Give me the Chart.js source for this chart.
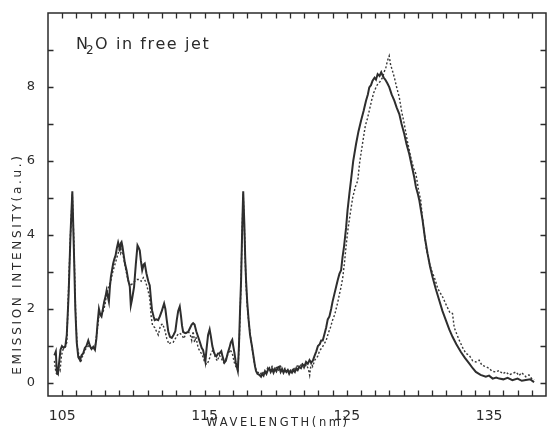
<!DOCTYPE html>
<html>
<head>
<meta charset="utf-8">
<script src="https://cdn.jsdelivr.net/npm/chart.js@4.4.1/dist/chart.umd.min.js"></script>
<style>
  html, body { margin: 0; padding: 0; background: #fff; }
  #wrap { width: 547px; height: 436px; }
</style>
</head>
<body>
<div id="wrap"><canvas id="spectrum"></canvas></div>
<script>
// N2O emission spectrum in a free jet, two runs (solid and dotted trace)
const xLabels = [105, 115, 125, 135];
const yLabels = [0, 2, 4, 6, 8];

const solidX = [104.45, 104.55, 104.62, 104.70, 104.78, 104.88, 104.98, 105.10, 105.22, 105.32, 105.45, 105.58, 105.71, 105.82, 105.92, 106.02, 106.13, 106.25, 106.36, 106.47, 106.59, 106.70, 106.83, 106.95, 107.06, 107.18, 107.30, 107.40, 107.48, 107.58, 107.67, 107.76, 107.86, 107.95, 108.05, 108.12, 108.20, 108.28, 108.35, 108.42, 108.50, 108.58, 108.66, 108.75, 108.84, 108.93, 109.00, 109.05, 109.12, 109.17, 109.23, 109.29, 109.40, 109.52, 109.63, 109.75, 109.82, 109.90, 110.05, 110.17, 110.29, 110.38, 110.45, 110.53, 110.62, 110.72, 110.80, 110.92, 111.05, 111.15, 111.25, 111.31, 111.42, 111.50, 111.62, 111.74, 111.86, 112.00, 112.16, 112.25, 112.33, 112.45, 112.57, 112.70, 112.82, 112.95, 113.05, 113.15, 113.26, 113.35, 113.42, 113.50, 113.65, 113.85, 114.00, 114.10, 114.20, 114.30, 114.42, 114.55, 114.68, 114.80, 114.90, 115.00, 115.06, 115.15, 115.25, 115.36, 115.45, 115.55, 115.65, 115.75, 115.83, 115.95, 116.05, 116.18, 116.28, 116.40, 116.50, 116.64, 116.75, 116.85, 116.95, 117.02, 117.10, 117.20, 117.34, 117.42, 117.50, 117.57, 117.65, 117.72, 117.80, 117.86, 117.92, 118.00, 118.10, 118.20, 118.34, 118.45, 118.55, 118.62, 118.72, 118.85, 118.97, 119.05, 119.15, 119.25, 119.35, 119.45, 119.55, 119.65, 119.75, 119.85, 119.95, 120.05, 120.15, 120.25, 120.35, 120.45, 120.55, 120.65, 120.75, 120.85, 120.95, 121.05, 121.15, 121.25, 121.35, 121.45, 121.55, 121.66, 121.78, 121.90, 122.02, 122.14, 122.26, 122.38, 122.50, 122.61, 122.72, 122.85, 122.97, 123.10, 123.20, 123.31, 123.45, 123.55, 123.66, 123.78, 123.90, 124.00, 124.13, 124.25, 124.36, 124.48, 124.60, 124.70, 124.80, 124.95, 125.05, 125.18, 125.30, 125.45, 125.65, 125.82, 126.00, 126.18, 126.35, 126.48, 126.58, 126.70, 126.81, 126.95, 127.05, 127.17, 127.30, 127.42, 127.52, 127.60, 127.70, 127.85, 127.99, 128.15, 128.34, 128.50, 128.69, 128.85, 129.04, 129.20, 129.39, 129.55, 129.74, 129.86, 130.00, 130.10, 130.22, 130.33, 130.50, 130.68, 130.85, 131.03, 131.25, 131.50, 131.72, 131.96, 132.20, 132.43, 132.70, 133.02, 133.30, 133.60, 133.85, 134.07, 134.40, 134.77, 135.00, 135.25, 135.50, 135.71, 136.00, 136.30, 136.64, 137.00, 137.30, 137.58, 137.90, 138.16];
const solidY = [0.75, 0.85, 0.30, 0.25, 0.55, 0.90, 1.00, 0.95, 1.00, 1.30, 2.40, 4.00, 5.18, 3.60, 2.00, 1.10, 0.70, 0.62, 0.75, 0.80, 0.95, 1.00, 1.15, 1.00, 0.92, 0.98, 0.90, 1.20, 1.60, 2.00, 1.85, 1.80, 2.00, 2.20, 2.35, 2.50, 2.35, 2.20, 2.60, 2.87, 3.05, 3.23, 3.35, 3.45, 3.65, 3.80, 3.70, 3.58, 3.78, 3.81, 3.70, 3.54, 3.25, 3.05, 2.80, 2.60, 2.10, 2.25, 2.60, 3.20, 3.72, 3.65, 3.58, 3.30, 3.05, 3.20, 3.23, 2.96, 2.75, 2.64, 2.20, 1.97, 1.80, 1.70, 1.72, 1.70, 1.80, 1.95, 2.15, 2.00, 1.75, 1.40, 1.25, 1.22, 1.30, 1.40, 1.70, 1.95, 2.07, 1.80, 1.55, 1.38, 1.35, 1.38, 1.50, 1.58, 1.62, 1.58, 1.40, 1.25, 1.10, 0.95, 0.89, 0.70, 0.58, 0.95, 1.30, 1.45, 1.25, 1.00, 0.85, 0.75, 0.72, 0.80, 0.80, 0.86, 0.70, 0.55, 0.60, 0.82, 0.95, 1.10, 1.17, 1.00, 0.82, 0.55, 0.33, 1.00, 2.00, 2.78, 4.20, 5.18, 4.30, 3.40, 2.78, 2.20, 1.70, 1.30, 0.98, 0.70, 0.45, 0.33, 0.25, 0.22, 0.17, 0.25, 0.20, 0.32, 0.25, 0.35, 0.40, 0.30, 0.38, 0.28, 0.38, 0.32, 0.42, 0.44, 0.30, 0.38, 0.28, 0.36, 0.30, 0.35, 0.25, 0.33, 0.28, 0.35, 0.30, 0.40, 0.35, 0.44, 0.40, 0.50, 0.45, 0.57, 0.52, 0.62, 0.55, 0.60, 0.72, 0.85, 1.00, 1.05, 1.15, 1.15, 1.35, 1.50, 1.72, 1.80, 2.00, 2.20, 2.41, 2.60, 2.78, 2.95, 3.05, 3.40, 3.67, 4.20, 4.66, 5.11, 5.50, 6.00, 6.46, 6.80, 7.09, 7.35, 7.63, 7.80, 7.99, 8.05, 8.17, 8.25, 8.20, 8.35, 8.30, 8.40, 8.31, 8.25, 8.20, 8.10, 7.99, 7.80, 7.63, 7.45, 7.27, 7.00, 6.73, 6.45, 6.19, 5.90, 5.56, 5.30, 5.10, 4.93, 4.65, 4.39, 3.90, 3.49, 3.15, 2.86, 2.55, 2.23, 1.95, 1.70, 1.45, 1.25, 1.05, 0.84, 0.68, 0.53, 0.40, 0.30, 0.22, 0.17, 0.20, 0.12, 0.15, 0.12, 0.10, 0.14, 0.08, 0.12, 0.06, 0.08, 0.10, 0.02];

const dotX = [104.45, 104.55, 104.65, 104.75, 104.85, 104.95, 105.05, 105.20, 105.32, 105.45, 105.58, 105.71, 105.82, 105.95, 106.05, 106.15, 106.30, 106.40, 106.55, 106.70, 106.85, 107.00, 107.15, 107.30, 107.45, 107.58, 107.70, 107.85, 108.00, 108.12, 108.25, 108.40, 108.55, 108.70, 108.85, 109.00, 109.10, 109.20, 109.35, 109.50, 109.65, 109.80, 109.95, 110.10, 110.25, 110.40, 110.55, 110.70, 110.85, 111.00, 111.15, 111.25, 111.35, 111.50, 111.62, 111.75, 111.90, 112.05, 112.20, 112.35, 112.50, 112.65, 112.80, 112.95, 113.10, 113.25, 113.40, 113.55, 113.70, 113.85, 114.00, 114.10, 114.20, 114.30, 114.40, 114.55, 114.70, 114.85, 115.00, 115.15, 115.30, 115.45, 115.60, 115.75, 115.90, 116.05, 116.20, 116.35, 116.50, 116.65, 116.80, 116.95, 117.10, 117.25, 117.35, 117.45, 117.55, 117.65, 117.72, 117.80, 117.90, 118.00, 118.12, 118.25, 118.38, 118.50, 118.62, 118.75, 118.90, 119.00, 119.15, 119.30, 119.45, 119.60, 119.75, 119.90, 120.05, 120.20, 120.35, 120.50, 120.65, 120.80, 120.95, 121.10, 121.25, 121.40, 121.55, 121.70, 121.85, 122.00, 122.15, 122.30, 122.39, 122.50, 122.60, 122.75, 122.95, 123.10, 123.25, 123.40, 123.55, 123.70, 123.85, 124.00, 124.15, 124.25, 124.40, 124.48, 124.60, 124.72, 124.85, 124.95, 125.07, 125.25, 125.42, 125.60, 125.77, 125.90, 126.10, 126.30, 126.45, 126.58, 126.75, 126.90, 127.05, 127.20, 127.35, 127.52, 127.62, 127.75, 127.85, 127.98, 128.08, 128.20, 128.34, 128.50, 128.69, 128.85, 129.04, 129.25, 129.50, 129.70, 129.86, 130.05, 130.20, 130.28, 130.40, 130.57, 130.80, 131.00, 131.15, 131.40, 131.73, 132.00, 132.25, 132.43, 132.55, 132.70, 132.90, 133.15, 133.37, 133.60, 133.85, 134.07, 134.30, 134.50, 134.77, 135.00, 135.20, 135.47, 135.70, 135.95, 136.20, 136.40, 136.64, 136.90, 137.10, 137.30, 137.58, 137.80, 138.00, 138.16];
const dotY = [0.60, 0.30, 0.20, 0.45, 0.35, 0.75, 0.90, 0.95, 1.10, 2.60, 4.00, 5.10, 3.80, 1.80, 1.00, 0.80, 0.55, 0.70, 0.85, 0.95, 1.00, 0.95, 0.90, 0.95, 1.40, 1.80, 1.85, 1.90, 2.10, 2.40, 2.60, 2.75, 3.00, 3.20, 3.40, 3.60, 3.50, 3.62, 3.30, 3.00, 2.75, 2.62, 2.70, 2.75, 2.80, 2.80, 2.75, 2.85, 2.75, 2.55, 2.30, 1.80, 1.55, 1.50, 1.40, 1.30, 1.55, 1.60, 1.45, 1.20, 1.05, 1.10, 1.10, 1.20, 1.30, 1.35, 1.30, 1.20, 1.35, 1.40, 1.30, 1.15, 1.40, 1.10, 1.25, 0.95, 0.85, 0.75, 0.58, 0.50, 0.60, 0.80, 0.90, 0.70, 0.60, 0.75, 0.65, 0.55, 0.65, 0.78, 0.90, 0.80, 0.55, 0.40, 0.35, 1.20, 2.50, 4.20, 5.10, 4.20, 2.80, 2.10, 1.60, 1.20, 0.85, 0.55, 0.35, 0.28, 0.30, 0.22, 0.30, 0.28, 0.42, 0.35, 0.45, 0.35, 0.42, 0.35, 0.45, 0.32, 0.40, 0.28, 0.38, 0.30, 0.42, 0.32, 0.50, 0.42, 0.55, 0.40, 0.50, 0.38, 0.21, 0.55, 0.45, 0.62, 0.72, 0.88, 0.95, 1.05, 1.15, 1.35, 1.50, 1.70, 1.85, 2.00, 2.25, 2.40, 2.60, 2.86, 3.30, 3.70, 4.12, 4.60, 5.02, 5.30, 5.47, 5.95, 6.46, 6.95, 7.15, 7.36, 7.65, 7.85, 7.99, 8.10, 8.15, 8.26, 8.40, 8.53, 8.70, 8.84, 8.60, 8.45, 8.26, 8.00, 7.72, 7.35, 7.00, 6.55, 6.10, 5.80, 5.65, 5.20, 4.93, 4.60, 4.20, 3.67, 3.25, 3.00, 2.86, 2.55, 2.33, 2.10, 1.90, 1.88, 1.50, 1.35, 1.16, 0.95, 0.80, 0.75, 0.60, 0.57, 0.62, 0.48, 0.44, 0.40, 0.32, 0.30, 0.34, 0.25, 0.30, 0.22, 0.26, 0.30, 0.20, 0.28, 0.17, 0.22, 0.12, 0.08];

const INK = '#2b2b2b';
const toPoints = (xs, ys) => xs.map((x, i) => ({ x: x, y: ys[i] }));

// frame, inward tick marks and hand-lettered titles
const decorations = {
  id: 'decorations',
  afterDraw(chart) {
    const { ctx, chartArea: a, scales: { x, y } } = chart;
    ctx.save();
    ctx.strokeStyle = INK;
    ctx.lineWidth = 1.5;
    ctx.strokeRect(a.left, a.top, a.right - a.left, a.bottom - a.top);

    ctx.lineWidth = 1.3;
    ctx.beginPath();
    for (let v = 105; v <= 138; v++) {
      const px = Math.round(x.getPixelForValue(v)) + 0.5;
      ctx.moveTo(px, a.bottom); ctx.lineTo(px, a.bottom - 5.5);
      ctx.moveTo(px, a.top); ctx.lineTo(px, a.top + 5.5);
    }
    for (let v = 0; v <= 9; v++) {
      const py = Math.round(y.getPixelForValue(v)) + 0.5;
      ctx.moveTo(a.left, py); ctx.lineTo(a.left + 5.5, py);
      ctx.moveTo(a.right, py); ctx.lineTo(a.right - 5.5, py);
    }
    ctx.stroke();

    ctx.fillStyle = INK;
    ctx.textBaseline = 'alphabetic';

    // N2O in free jet
    ctx.font = '16px "DejaVu Sans"';
    ctx.letterSpacing = '1.6px';
    ctx.textAlign = 'left';
    ctx.fillText('N', 76, 49);
    ctx.font = '12px "DejaVu Sans"';
    ctx.fillText('2', 86, 54);
    ctx.font = '16px "DejaVu Sans"';
    ctx.fillText('O in free jet', 95, 49);

    // x axis title
    ctx.font = '11.5px "DejaVu Sans"';
    ctx.letterSpacing = '2.6px';
    ctx.textAlign = 'center';
    ctx.fillText('WAVELENGTH(nm)', 278, 426);

    // y axis title
    ctx.translate(21, 264);
    ctx.rotate(-Math.PI / 2);
    ctx.font = '12px "DejaVu Sans"';
    ctx.letterSpacing = '2.7px';
    ctx.fillText('EMISSION INTENSITY(a.u.)', 0, 0);
    ctx.restore();
  }
};

new Chart(document.getElementById('spectrum'), {
  type: 'line',
  data: {
    datasets: [
      {
        label: 'solid',
        data: toPoints(solidX, solidY),
        borderColor: '#2e2e2e',
        borderWidth: 2,
        pointRadius: 0,
        tension: 0
      },
      {
        label: 'dotted',
        data: toPoints(dotX, dotY),
        borderColor: '#383838',
        borderWidth: 1.4,
        borderDash: [2, 2],
        pointRadius: 0,
        tension: 0
      }
    ]
  },
  options: {
    responsive: true,
    maintainAspectRatio: false,
    animation: false,
    layout: { padding: { top: 13, right: 1, left: 0, bottom: 0 } },
    plugins: {
      legend: { display: false },
      tooltip: { enabled: false }
    },
    scales: {
      x: {
        type: 'linear',
        min: 104,
        max: 139,
        afterBuildTicks: s => { s.ticks = xLabels.map(v => ({ value: v })); },
        afterFit: s => { s.height = 40; },
        grid: { display: false },
        border: { display: false },
        ticks: {
          color: INK,
          padding: 4,
          maxRotation: 0,
          autoSkip: false,
          font: { family: 'DejaVu Sans', size: 14 }
        }
      },
      y: {
        min: -0.35,
        max: 10,
        afterBuildTicks: s => { s.ticks = yLabels.map(v => ({ value: v })); },
        afterFit: s => { s.width = 48; },
        grid: { display: false },
        border: { display: false },
        ticks: {
          color: INK,
          padding: 5,
          font: { family: 'DejaVu Sans', size: 13 }
        }
      }
    }
  },
  plugins: [decorations]
});
</script>
</body>
</html>
